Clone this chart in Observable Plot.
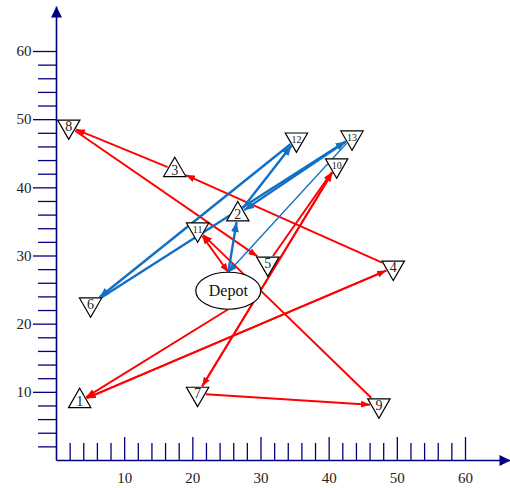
<!DOCTYPE html>
<html><head><meta charset="utf-8">
<script src="https://cdn.jsdelivr.net/npm/d3@7"></script>
<script src="https://cdn.jsdelivr.net/npm/@observablehq/plot@0.6"></script>
<style>body{margin:0;background:#fff}svg{display:block}</style>
</head><body><div id="chart"></div>
<script>
// ---- data ----
const nodeIds   = ["1","2","3","4","5","6","7","8","9","10","11","12","13"];
const nodeX     = [3.4, 26.6, 17.35, 49.4, 31.0, 5.0, 20.7, 1.8, 47.3, 41.1, 20.7, 35.2, 43.35];
const nodeY     = [8.7, 36.1, 42.6, 28.3, 28.9, 22.9, 9.8, 49.0, 8.1, 43.3, 33.9, 47.1, 47.4];
const nodeShape = ["up","up","up","down","down","down","down","down","down","down","down","down","down"];
const depotLabel = "Depot";
const depotX = 25.2, depotY = 24.9;

const redEdges      = [["Depot","1"],["1","4"],["4","3"],["3","8"],["8","5"],["5","10"],["10","7"],["7","9"],["9","11"],["11","Depot"],["4","1"],["7","10"]];
const redThinEdges  = [["Depot","11"]];
const blueEdges     = [["Depot","2"],["2","12"],["12","6"],["6","13"],["13","2"]];
const blueThinEdges = [["13","Depot"]];

const xTickValues = [10,20,30,40,50,60];
const yTickValues = [10,20,30,40,50,60];
const minorValues = [2,4,6,8,12,14,16,18,22,24,26,28,32,34,36,38,42,44,46,48,52,54,56,58];
const axisEnd = 66.6;

// ---- styling constants ----
const K = (465 - 56) / 60;       // px per data unit (both axes)
const NAVY = "#000080", RED = "#ff0000", BLUE = "#1170c4";
const SERIF = "Liberation Serif, Times New Roman, serif";
const TRI_R = 8.3;
const TRI_IN = Math.sqrt(TRI_R*TRI_R*Math.PI/(3*Math.sqrt(3))) / K;
const ERX = 32.5 / K, ERY = 18.5 / K;

const nodes = nodeIds.map((id, i) => ({id, x: nodeX[i], y: nodeY[i], shape: nodeShape[i]}));
const depot = {id: depotLabel, x: depotX, y: depotY, shape: "depot"};
const byId = new Map([...nodes, depot].map(d => [d.id, d]));

function triBoundary(n, ux, uy) {
  const sy = -uy;
  const normals = n.shape === "up"
    ? [[0,1],[0.866,-0.5],[-0.866,-0.5]]
    : [[0,-1],[0.866,0.5],[-0.866,0.5]];
  const m = Math.max(...normals.map(([nx,ny]) => ux*nx + sy*ny));
  return TRI_IN / m;
}
// depot edges attach at the ellipse's top or bottom centre
function anchor(n, other) {
  if (n.shape !== "depot") return [n.x, n.y];
  return [n.x, n.y + (other.y > n.y ? ERY : -ERY)];
}
function segs(edges) {
  const gap = 1.2 / K;
  return edges.map(([a,b]) => {
    const A = byId.get(a), B = byId.get(b);
    const [ax, ay] = anchor(A, B), [bx, by] = anchor(B, A);
    const dx = bx - ax, dy = by - ay, L = Math.hypot(dx, dy);
    const ux = dx / L, uy = dy / L;
    const s = A.shape === "depot" ? 0 : triBoundary(A, ux, uy) + gap;
    const e = B.shape === "depot" ? 0 : triBoundary(B, -ux, -uy) + gap;
    return {x1: ax + ux*s, y1: ay + uy*s, x2: bx - ux*e, y2: by - uy*e};
  });
}
function arrowMarker(len, wid) {
  return (color, context) => {
    const ns = "http://www.w3.org/2000/svg";
    const doc = (context && context.document) || document;
    const m = doc.createElementNS(ns, "marker");
    m.setAttribute("viewBox", `${-len} ${-wid/2} ${len} ${wid}`);
    m.setAttribute("markerWidth", len);
    m.setAttribute("markerHeight", wid);
    m.setAttribute("markerUnits", "userSpaceOnUse");
    m.setAttribute("refX", 0);
    m.setAttribute("refY", 0);
    m.setAttribute("orient", "auto");
    const p = doc.createElementNS(ns, "path");
    p.setAttribute("d", `M${-len},${-wid/2}L0,0L${-len},${wid/2}Z`);
    p.setAttribute("fill", color);
    p.setAttribute("stroke", "none");
    m.appendChild(p);
    return m;
  };
}
const ellipseSymbol = {
  draw(ctx, size) {
    const r = Math.sqrt(size / Math.PI), rx = r * (32.5/18.5), ry = r, k = 0.5523;
    ctx.moveTo(rx, 0);
    ctx.bezierCurveTo(rx, ry*k, rx*k, ry, 0, ry);
    ctx.bezierCurveTo(-rx*k, ry, -rx, ry*k, -rx, 0);
    ctx.bezierCurveTo(-rx, -ry*k, -rx*k, -ry, 0, -ry);
    ctx.bezierCurveTo(rx*k, -ry, rx, -ry*k, rx, 0);
    ctx.closePath();
  }
};

const axes = [{x1:0,y1:0,x2:axisEnd,y2:0},{x1:0,y1:0,x2:0,y2:axisEnd}];
const minorX = 17 / K, majorX = 23 / K, minorY = 18 / K, majorY = 23 / K;

const chart = Plot.plot({
  width: 510, height: 488,
  x: {domain: [0, 60], range: [56, 465], axis: null},
  y: {domain: [0, 60], range: [460, 51], axis: null},
  style: {background: "#fff", overflow: "visible"},
  marks: [
    Plot.ruleX(minorValues, {x: d => d, y1: 0, y2: minorX, stroke: NAVY, strokeWidth: 1.3}),
    Plot.ruleX(xTickValues, {x: d => d, y1: 0, y2: majorX, stroke: NAVY, strokeWidth: 1.3}),
    Plot.ruleY(minorValues, {y: d => d, x1: -minorY, x2: 0, stroke: NAVY, strokeWidth: 1.3}),
    Plot.ruleY(yTickValues, {y: d => d, x1: -majorY, x2: 0, stroke: NAVY, strokeWidth: 1.3}),
    Plot.link(axes, {x1: "x1", y1: "y1", x2: "x2", y2: "y2", stroke: NAVY, strokeWidth: 1.6, markerEnd: arrowMarker(11, 11)}),
    Plot.text(xTickValues, {x: d => d, y: 0, dy: 18, text: d => String(d), fontFamily: SERIF, fontSize: 15, fill: "#222", textAnchor: "middle"}),
    Plot.text(yTickValues, {x: 0, y: d => d, dx: -25, text: d => String(d), fontFamily: SERIF, fontSize: 15, fill: "#222", textAnchor: "end"}),
    Plot.link(segs(redEdges), {x1: "x1", y1: "y1", x2: "x2", y2: "y2", stroke: RED, strokeWidth: 1.9, markerEnd: arrowMarker(9, 7)}),
    Plot.link(segs(redThinEdges), {x1: "x1", y1: "y1", x2: "x2", y2: "y2", stroke: RED, strokeWidth: 1, markerEnd: arrowMarker(8, 6)}),
    Plot.link(segs(blueEdges), {x1: "x1", y1: "y1", x2: "x2", y2: "y2", stroke: BLUE, strokeWidth: 2.4, markerEnd: arrowMarker(10, 8)}),
    Plot.link(segs(blueThinEdges), {x1: "x1", y1: "y1", x2: "x2", y2: "y2", stroke: BLUE, strokeWidth: 1.3, markerEnd: arrowMarker(9, 7)}),
    Plot.dot(nodes.filter(d => d.shape === "up"), {x: "x", y: "y", symbol: "triangle", r: TRI_R, fill: "#fff", stroke: "#000", strokeWidth: 1.2}),
    Plot.dot(nodes.filter(d => d.shape === "down"), {x: "x", y: "y", symbol: "triangle", r: TRI_R, rotate: 180, fill: "#fff", stroke: "#000", strokeWidth: 1.2}),
    Plot.dot([depot], {x: "x", y: "y", symbol: ellipseSymbol, r: 18.5, fill: "#fff", stroke: "#000", strokeWidth: 1.2}),
    Plot.text(nodes.filter(d => d.id.length === 1), {x: "x", y: "y", text: "id", fontFamily: SERIF, fontSize: 14, fill: "#222"}),
    Plot.text(nodes.filter(d => d.id.length > 1), {x: "x", y: "y", text: "id", fontFamily: SERIF, fontSize: 10, fill: "#222"}),
    Plot.text([depot], {x: "x", y: "y", text: "id", fontFamily: SERIF, fontSize: 16, fill: "#111"})
  ]
});
document.getElementById("chart").appendChild(chart);
</script>
</body></html>
